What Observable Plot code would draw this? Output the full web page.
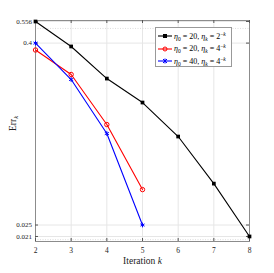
<!DOCTYPE html>
<html>
<head>
<meta charset="utf-8">
<script src="https://cdn.jsdelivr.net/npm/d3@7"></script>
<script src="https://cdn.jsdelivr.net/npm/@observablehq/plot@0.6"></script>
<style>
  html, body { margin: 0; padding: 0; background: #fff; }
  #wrap { position: relative; width: 274px; height: 273px; }
  #legend {
    position: absolute; left: 155px; top: 27px; width: 77px; height: 40px;
    border: 1px solid #999; background: #fff; box-sizing: border-box;
    font-family: "Liberation Serif", "DejaVu Serif", serif; font-size: 8px; color: #000;
  }
  .row { position: absolute; left: 2px; height: 12px; display: flex; align-items: center; white-space: nowrap; }
  .row svg { margin-right: 2px; }
  sub, sup { font-size: 5.5px; }
  sub { vertical-align: -1.5px; }
  sup { vertical-align: 3px; }
</style>
</head>
<body>
<div id="wrap"></div>
<script>
const iterations = [2, 3, 4, 5, 6, 7, 8];
const series1 = [0.556, 0.380, 0.233, 0.1617, 0.0963, 0.047, 0.021];   // eta0=20, etak=2^-k
const series2 = [0.360, 0.248, 0.1156, 0.0429];                        // eta0=20, etak=4^-k
const series3 = [0.400, 0.2296, 0.1008, 0.025];                        // eta0=40, etak=4^-k
const yTicks = [0.021, 0.025, 0.4, 0.556];
const yTickLabels = ["0.021", "0.025", "0.4", "0.556"];
const yMinor = [0.02, 0.5];
const xTicks = [2, 3, 4, 5, 6, 7, 8];
const names = ["s1", "s2", "s3"];
const colors = ["#000000", "#ff0000", "#0000ff"];

const rows = [];
[series1, series2, series3].forEach((s, i) => s.forEach((v, j) => rows.push({k: iterations[j], err: v, s: names[i]})));
const yLab = yTicks.map((v, i) => ({v, t: yTickLabels[i]}));

const serif = "Liberation Serif, DejaVu Serif, serif";
const W = 274, H = 273, mL = 35, mR = 25, mT = 20, mB = 32;
const pw = W - mL - mR, ph = H - mT - mB;

const plot = Plot.plot({
  width: W, height: H,
  marginLeft: mL, marginRight: mR, marginTop: mT, marginBottom: mB,
  style: {fontFamily: serif, background: "#fff"},
  x: {domain: [2, 8], axis: null},
  y: {type: "log", domain: [0.01945, 0.5645], axis: null},
  marks: [
    Plot.gridX(xTicks, {stroke: "#e6e6e6", strokeOpacity: 1}),
    Plot.gridY(yTicks, {stroke: "#e6e6e6", strokeOpacity: 1}),
    Plot.ruleY(yMinor, {stroke: "#cfcfcf", strokeDasharray: "1,1.5", strokeWidth: 0.7}),
    Plot.frame({stroke: "#8c8c8c", strokeWidth: 1}),
    Plot.tickY(yTicks, {y: d => d, stroke: "#555", insetRight: pw - 3}),
    Plot.tickY(yTicks, {y: d => d, stroke: "#555", insetLeft: pw - 3}),
    Plot.tickX(xTicks, {x: d => d, stroke: "#555", insetTop: ph - 3}),
    Plot.tickX(xTicks, {x: d => d, stroke: "#555", insetBottom: ph - 3}),
    Plot.text(xTicks, {x: d => d, frameAnchor: "bottom", dy: 11, text: d => String(d), fontSize: 7.5, fontFamily: serif, fill: "#222"}),
    Plot.text(yLab, {y: "v", frameAnchor: "left", dx: -3.5, textAnchor: "end", text: "t", fontSize: 7, fontFamily: serif, fill: "#222"}),
    Plot.line(rows, {x: "k", y: "err", z: "s", stroke: "s", strokeWidth: 1.1}),
    Plot.dot(rows.filter(d => d.s === "s1"), {x: "k", y: "err", fill: "#000", r: 2.1, symbol: "square"}),
    Plot.dot(rows.filter(d => d.s === "s2"), {x: "k", y: "err", stroke: "#ff0000", r: 2.2, strokeWidth: 1}),
    Plot.dot(rows.filter(d => d.s === "s3"), {x: "k", y: "err", stroke: "#0000ff", r: 2.2, symbol: "asterisk", strokeWidth: 1}),
    Plot.text(["Iteration"], {frameAnchor: "bottom", dy: 22, fontSize: 9.5, fontFamily: serif, fill: "#222", className: "xlab"}),
    Plot.text(["Err"], {frameAnchor: "left", dx: -23, rotate: -90, fontSize: 9.5, fontFamily: serif, fill: "#222", className: "ylab"})
  ],
  color: {domain: names, range: colors}
});

const wrap = document.getElementById("wrap");
wrap.appendChild(plot);

d3.select(plot).selectAll(".xlab text").each(function() {
  const t = d3.select(this);
  t.text("Iteration ");
  t.append("tspan").attr("font-style", "italic").text("k");
});
d3.select(plot).selectAll(".ylab text").each(function() {
  const t = d3.select(this);
  t.text("Err");
  t.append("tspan").attr("font-style", "italic").attr("font-size", 6.5).attr("dy", 2).text("k");
});

const labels = [
  '<i>η</i><sub>0</sub> = 20, <i>η</i><sub><i>k</i></sub> = 2<sup>−<i>k</i></sup>',
  '<i>η</i><sub>0</sub> = 20, <i>η</i><sub><i>k</i></sub> = 4<sup>−<i>k</i></sup>',
  '<i>η</i><sub>0</sub> = 40, <i>η</i><sub><i>k</i></sub> = 4<sup>−<i>k</i></sup>'
];
const sym = [
  '<rect x="5" y="4" width="4" height="4" fill="#000"/>',
  '<circle cx="7" cy="6" r="2" fill="none" stroke="#ff0000" stroke-width="1"/>',
  '<path d="M5,4L9,8M9,4L5,8M7,3.5L7,8.5" stroke="#0000ff" stroke-width="1"/>'
];
const legend = document.createElement("div");
legend.id = "legend";
labels.forEach((lab, i) => {
  const r = document.createElement("div");
  r.className = "row";
  r.style.top = (2 + i * 12.5) + "px";
  r.innerHTML = `<svg width="14" height="12"><line x1="0" x2="14" y1="6" y2="6" stroke="${colors[i]}" stroke-width="1.1"/>${sym[i]}</svg><span>${lab}</span>`;
  legend.appendChild(r);
});
wrap.appendChild(legend);
</script>
</body>
</html>
